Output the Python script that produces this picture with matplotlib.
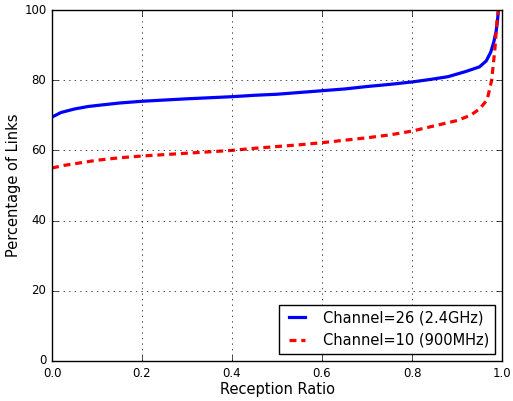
import matplotlib
matplotlib.use("Agg")
import matplotlib.pyplot as plt
import numpy as np

plt.style.use('classic')
plt.rcParams['lines.scale_dashes'] = False

# reception ratio vs percentage of links
x_26 = [0.0, 0.02, 0.05, 0.08, 0.1, 0.15, 0.2, 0.3, 0.4, 0.45, 0.5, 0.55, 0.6, 0.65, 0.7,
        0.75, 0.8, 0.84, 0.88, 0.92, 0.95, 0.965, 0.975, 0.982, 0.987, 0.99, 0.992]
y_26 = [69.5, 70.8, 71.8, 72.5, 72.8, 73.5, 74.0, 74.7, 75.3, 75.7, 76.0, 76.5, 77.0, 77.5, 78.2,
        78.8, 79.5, 80.2, 81.0, 82.5, 83.8, 85.5, 88.0, 91.0, 94.0, 97.0, 100.0]

x_10 = [0.0, 0.03, 0.07, 0.1, 0.15, 0.2, 0.3, 0.4, 0.45, 0.5, 0.55, 0.6, 0.65, 0.7, 0.75,
        0.8, 0.85, 0.9, 0.93, 0.95, 0.967, 0.977, 0.984, 0.989, 0.992]
y_10 = [55.0, 55.8, 56.6, 57.2, 57.9, 58.4, 59.2, 60.0, 60.6, 61.1, 61.6, 62.2, 62.9, 63.6, 64.4,
        65.5, 67.0, 68.5, 70.0, 71.8, 74.4, 80.0, 88.6, 97.0, 100.0]

labels = ['Channel=26 (2.4GHz)', 'Channel=10 (900MHz)']

fig = plt.figure(figsize=(5.13, 4.01), dpi=100)
ax = fig.add_axes([52/513., 40/401., 450/513., 351/401.])
ax.plot(x_26, y_26, 'b-', lw=2.3, label=labels[0])
ax.plot(x_10, y_10, 'r--', lw=2.3, dashes=(5, 3.5), label=labels[1])
ax.set_xlim(0, 1.0)
ax.set_ylim(0, 100)
ax.set_xticks(np.arange(0, 1.01, 0.2))
ax.set_yticks(np.arange(0, 101, 20))
ax.grid(True, color='k', linestyle=':')
ax.tick_params(labelsize=8.5)
ax.set_xlabel('Reception Ratio', fontsize=10.5, labelpad=2)
ax.set_ylabel('Percentage of Links', fontsize=10.5, labelpad=2)
ax.legend(loc='lower right', fontsize=10.5, handlelength=1.7, handletextpad=0.9,
          borderaxespad=0.5)

plt.savefig('out.png', dpi=100)
